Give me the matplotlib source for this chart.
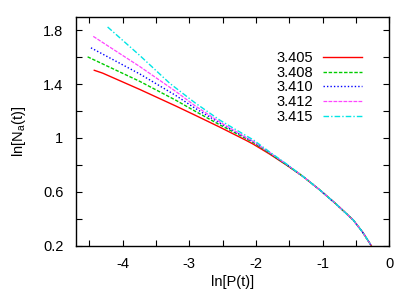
import matplotlib
matplotlib.use("Agg")
import matplotlib.pyplot as plt
from matplotlib.ticker import MultipleLocator

plt.rcParams['font.family'] = ['Liberation Sans', 'DejaVu Sans']
plt.rcParams['font.size'] = 10.5

# values
x_tail = [-1.3, -1.04, -0.8, -0.54, -0.4, -0.27]
y_tail = [0.716, 0.613, 0.51, 0.39, 0.30, 0.2]

x_red = [-4.425, -4.3, -3.74, -3.2, -2.916, -2.54, -2.166, -2.04, -1.8, -1.54] + x_tail
y_red = [1.503, 1.482, 1.36, 1.237, 1.17, 1.08, 0.987, 0.954, 0.882, 0.798] + y_tail

x_green = [-4.525, -3.74, -3.2, -2.916, -2.54, -2.166, -2.04, -1.8, -1.54] + x_tail
y_green = [1.603, 1.42, 1.28, 1.2, 1.097, 1.0, 0.966, 0.888, 0.80] + y_tail

x_blue = [-4.475, -3.74, -3.2, -2.916, -2.54, -2.166, -2.04, -1.8, -1.54] + x_tail
y_blue = [1.67, 1.475, 1.315, 1.222, 1.11, 1.006, 0.972, 0.892, 0.802] + y_tail

x_mag = [-4.44, -3.74, -3.2, -2.916, -2.54, -2.166, -2.04, -1.8, -1.54] + x_tail
y_mag = [1.755, 1.53, 1.345, 1.24, 1.118, 1.008, 0.974, 0.894, 0.804] + y_tail

x_cyan = [-4.225, -3.74, -3.29, -2.916, -2.54, -2.166, -2.04, -1.8, -1.54] + x_tail
y_cyan = [1.825, 1.612, 1.405, 1.262, 1.132, 1.022, 0.986, 0.898, 0.806] + y_tail

labels = ['3.405', '3.408', '3.410', '3.412', '3.415']

fig = plt.figure(figsize=(4.15, 2.91), dpi=100)
ax = fig.add_axes([0.183, 0.156, 0.755, 0.786])

ax.plot(x_red, y_red, color='#ff0000', lw=1.0, ls='-', label=labels[0])
ax.plot(x_green, y_green, color='#00cc00', lw=1.0, ls=(0, (2.5, 1.2)), label=labels[1])
ax.plot(x_blue, y_blue, color='#0000ff', lw=1.0, ls=(0, (1, 1.5)), label=labels[2])
ax.plot(x_mag, y_mag, color='#ff44ff', lw=0.9, ls=(0, (3, 1)), label=labels[3])
ax.plot(x_cyan, y_cyan, color='#00e5e5', lw=1.0, ls=(0, (4, 1.5, 1, 1.5)), label=labels[4])

ax.set_xlim(-4.7, 0)
ax.set_ylim(0.2, 1.9)
ax.xaxis.set_minor_locator(MultipleLocator(0.5))
ax.yaxis.set_minor_locator(MultipleLocator(0.2))
ax.set_yticks([0.2, 0.6, 1.0, 1.4, 1.8])
ax.set_yticklabels(['0.2', '0.6', '1', '1.4', '1.8'])
ax.set_xticks([-4, -3, -2, -1, 0])
ax.set_xticklabels(['-4', '-3', '-2', '-1', '0'])
ax.tick_params(which='both', direction='in', top=True, right=True, length=4, width=0.8)
ax.tick_params(axis='y', which='major', pad=9)
ax.tick_params(axis='x', which='major', pad=8)
for s in ax.spines.values():
    s.set_linewidth(1.0)

ax.set_xlabel('ln[P(t)]', labelpad=3)
ax.set_ylabel(r'ln[N$_{\mathregular{a}}$(t)]', labelpad=11)

ax.legend(loc='upper right', bbox_to_anchor=(0.914, 0.851), frameon=False,
          markerfirst=False, handlelength=2.7, handletextpad=0.7,
          labelspacing=0.05, borderpad=0, borderaxespad=0, fontsize=10.5)

fig.savefig('out.png', dpi=100)
